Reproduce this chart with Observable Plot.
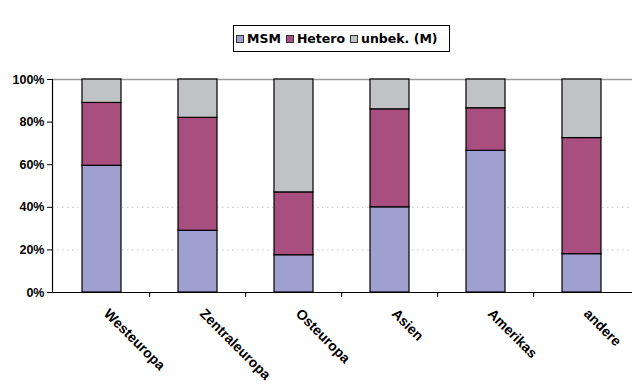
<!DOCTYPE html>
<html><head><meta charset="utf-8">
<script src="https://cdn.jsdelivr.net/npm/d3@7"></script>
<script src="https://cdn.jsdelivr.net/npm/@observablehq/plot@0.6"></script>
<style>
body{margin:0;background:#fff;}
#wrap{position:relative;width:640px;height:387px;}
#legend{position:absolute;left:233px;top:25px;width:217px;height:27px;border:1px solid #000;box-sizing:border-box;display:flex;align-items:center;padding-left:2px;font:bold 12.5px "DejaVu Sans",sans-serif;color:#000;background:#fff;white-space:nowrap;overflow:visible;}
#legend .item{display:flex;align-items:center;margin-right:5px;}
#legend .sw{width:6px;height:6px;border:1px solid #333;margin-right:3px;}
svg text{font-weight:bold;}
</style>
</head><body>
<div id="wrap"><div id="legend"></div></div>
<script>
const categories = ["Westeuropa","Zentraleuropa","Osteuropa","Asien","Amerikas","andere"];
const series = ["MSM","Hetero","unbek. (M)"];
const msm    = [0.595,0.29,0.175,0.40,0.665,0.18];
const hetero = [0.295,0.53,0.295,0.46,0.20,0.545];
const unbek  = [0.11,0.18,0.53,0.14,0.135,0.275];
const colors = ["#9fa0d0","#a84f80","#c0c3c5"];
const yTicks = [0,0.2,0.4,0.6,0.8,1];
const gridTicks = [0.2,0.4];

const valuesBySeries = [msm, hetero, unbek];
const table = [];
series.forEach((s, si) => categories.forEach((c, ci) => table.push({cat: c, series: s, value: valuesBySeries[si][ci]})));

const W = 640, H = 387, ML = 52, MR = 8, MT = 79, MB = 95;
const step = (W - ML - MR) / categories.length;

const chart = Plot.plot({
  width: W, height: H,
  marginLeft: ML, marginRight: MR, marginTop: MT, marginBottom: MB,
  style: {background: "#fff", overflow: "visible"},
  x: {domain: categories, paddingInner: 0.59, paddingOuter: 0.295, axis: null, label: null},
  y: {domain: [0, 1], axis: null, label: null},
  color: {domain: series, range: colors},
  marks: [
    Plot.ruleY(gridTicks, {stroke: "#c4c4c4", strokeDasharray: "1.5,3.5"}),
    Plot.ruleY([1], {stroke: "#999", strokeWidth: 1.5}),
    Plot.barY(table, Plot.stackY({order: series, x: "cat", y: "value", fill: "series", stroke: "#000", strokeWidth: 1.2})),
    Plot.ruleY([0], {stroke: "#000", strokeWidth: 1.2}),
    Plot.frame({anchor: "left", stroke: "#000", strokeWidth: 1.2}),
    Plot.axisY({ticks: yTicks, label: null, tickFormat: d3.format(".0%"), tickSize: 5, tickPadding: 3, fontSize: 12.5, fontFamily: "Liberation Sans, Arial, sans-serif", fill: "#000", stroke: "#000"}),
    Plot.axisX(categories.slice(1), {label: null, tickSize: 5, tickFormat: () => "", dx: -step / 2, stroke: "#000"}),
    Plot.text(categories, {x: d => d, text: d => d, frameAnchor: "bottom", rotate: 45, textAnchor: "start", lineAnchor: "top", dx: 8, dy: 15, fontWeight: "bold", fontSize: 14, fontFamily: "Liberation Sans, Arial, sans-serif", fill: "#000"})
  ]
});
document.getElementById("wrap").prepend(chart);

const leg = document.getElementById("legend");
series.forEach((s, i) => {
  const it = document.createElement("span"); it.className = "item";
  const sw = document.createElement("span"); sw.className = "sw"; sw.style.background = colors[i];
  const tx = document.createElement("span"); tx.textContent = s;
  it.append(sw, tx); leg.append(it);
});
</script>
</body></html>
